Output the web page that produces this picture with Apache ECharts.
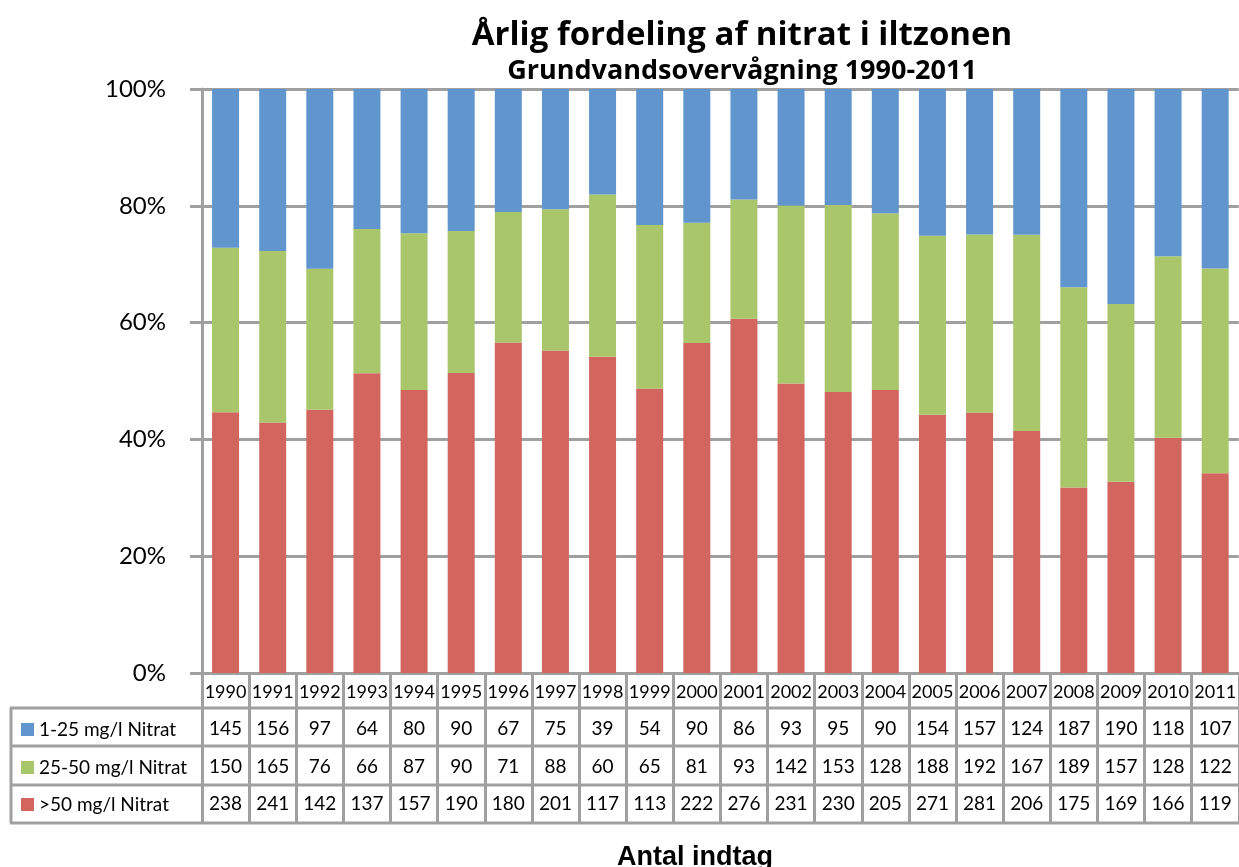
<!DOCTYPE html>
<html>
<head>
<meta charset="utf-8">
<script src="https://cdn.jsdelivr.net/npm/echarts@6/dist/echarts.min.js"></script>
<style>
  html, body { margin: 0; padding: 0; background: #fff; }
  #main { width: 1239px; height: 867px; }
</style>
</head>
<body>
<div id="main"></div>
<script>
// data
const years = ['1990', '1991', '1992', '1993', '1994', '1995', '1996', '1997', '1998', '1999', '2000',
  '2001', '2002', '2003', '2004', '2005', '2006', '2007', '2008', '2009', '2010', '2011'];
const low = [145, 156, 97, 64, 80, 90, 67, 75, 39, 54, 90, 86, 93, 95, 90, 154, 157, 124, 187, 190, 118, 107];
const mid = [150, 165, 76, 66, 87, 90, 71, 88, 60, 65, 81, 93, 142, 153, 128, 188, 192, 167, 189, 157, 128, 122];
const high = [238, 241, 142, 137, 157, 190, 180, 201, 117, 113, 222, 276, 231, 230, 205, 271, 281, 206, 175, 169, 166, 119];
const names = ['1-25 mg/l Nitrat', '25-50 mg/l Nitrat', '>50 mg/l Nitrat'];
const colors = ['#6096cd', '#a9c66b', '#d2665f'];

const gray = '#a0a0a0';
const font = 'Lato, "Open Sans", sans-serif';

// grid layout
const gridLeft = 202, gridTop = 89, gridBottomY = 673;
// table row centers
const rowY = [729, 767, 804];
const lineY = [708, 746, 785, 823];

function pct(arr) {
  return arr.map((v, i) => v / (low[i] + mid[i] + high[i]) * 100);
}

let myChart = echarts.init(document.getElementById('main'));

let valueAxis = function (row, idx) {
  return {
    type: 'category',
    data: years,
    position: 'bottom',
    offset: rowY[idx] - gridBottomY,
    axisLine: { show: false },
    axisTick: { show: false },
    axisLabel: {
      interval: 0,
      margin: 0,
      verticalAlign: 'middle',
      fontFamily: font,
      fontSize: 19,
      color: '#000',
      formatter: (v, i) => String(row[i])
    }
  };
};

let legends = names.map((n, i) => ({
  data: [n],
  left: 16,
  top: rowY[i] - 14,
  icon: 'rect',
  itemWidth: 13,
  itemHeight: 13,
  itemGap: 5,
  textStyle: { fontFamily: font, fontSize: 19, color: '#000' }
}));

let graphics = lineY.map(y => ({
  type: 'line',
  shape: { x1: 10, y1: y, x2: 1245, y2: y },
  style: { stroke: gray, lineWidth: 3 }
}));
graphics.push({
  type: 'line',
  shape: { x1: 11, y1: lineY[0], x2: 11, y2: lineY[3] },
  style: { stroke: gray, lineWidth: 3 }
});

let option = {
  animation: false,
  title: [{
    text: 'Årlig fordeling af nitrat i iltzonen',
    subtext: 'Grundvandsovervågning 1990-2011',
    left: 737,
    top: 14,
    textAlign: 'center',
    itemGap: 6,
    textStyle: { fontFamily: '"Open Sans", sans-serif', fontSize: 33, fontWeight: 'bold', color: '#000' },
    subtextStyle: { fontFamily: '"Open Sans", sans-serif', fontSize: 27, fontWeight: 'bold', color: '#000' }
  }, {
    text: 'Antal indtag',
    left: 690,
    top: 839,
    textAlign: 'center',
    textStyle: { fontFamily: '"Liberation Sans", Arial, sans-serif', fontSize: 27, fontWeight: 'bold', color: '#000' }
  }],
  legend: legends,
  grid: {
    left: gridLeft,
    top: gridTop,
    width: 1040,
    bottom: 867 - gridBottomY
  },
  xAxis: [{
    type: 'category',
    data: years,
    position: 'bottom',
    axisLine: { lineStyle: { color: gray, width: 3 } },
    axisTick: { show: true, interval: 0, length: 150, lineStyle: { color: gray, width: 3 } },
    axisLabel: {
      interval: 0,
      margin: 19,
      verticalAlign: 'middle',
      fontFamily: font,
      fontSize: 18,
      color: '#000'
    }
  },
  valueAxis(low, 0),
  valueAxis(mid, 1),
  valueAxis(high, 2)
  ],
  yAxis: {
    type: 'value',
    min: 0,
    max: 100,
    interval: 20,
    axisLine: { show: true, lineStyle: { color: gray, width: 3 } },
    axisTick: { show: true, length: 12, lineStyle: { color: gray, width: 3 } },
    splitLine: { lineStyle: { color: gray, width: 3 } },
    axisLabel: {
      margin: 36,
      fontFamily: font,
      fontSize: 24,
      color: '#000',
      formatter: '{value}%'
    }
  },
  series: [
    { name: names[2], type: 'bar', stack: 'all', barWidth: 27, data: pct(high), itemStyle: { color: colors[2] } },
    { name: names[1], type: 'bar', stack: 'all', barWidth: 27, data: pct(mid), itemStyle: { color: colors[1] } },
    { name: names[0], type: 'bar', stack: 'all', barWidth: 27, data: pct(low), itemStyle: { color: colors[0] } }
  ],
  graphic: graphics
};

myChart.setOption(option);
</script>
</body>
</html>
